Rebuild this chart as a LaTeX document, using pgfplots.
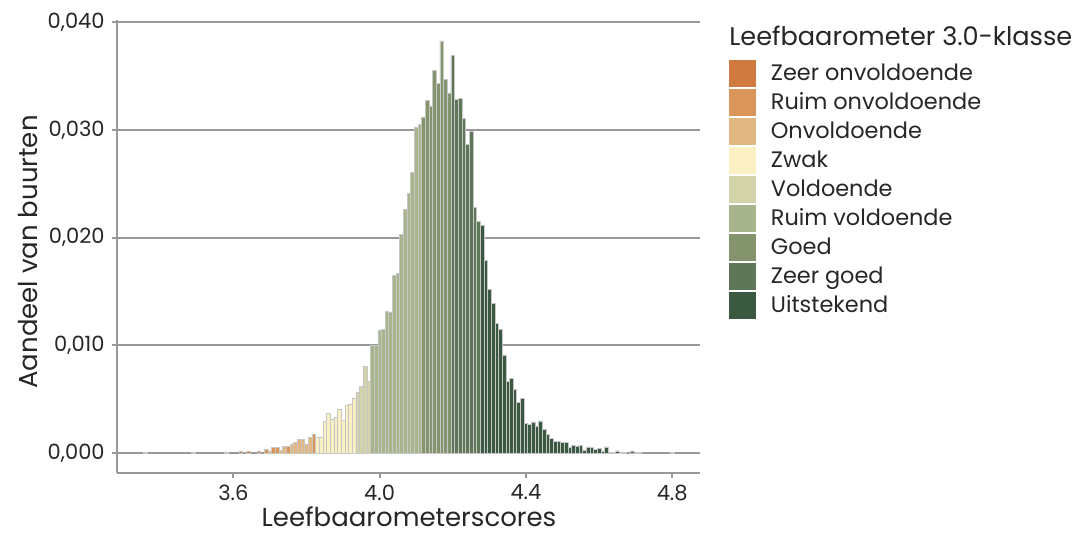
\documentclass[border=0pt]{standalone}
\usepackage{fontspec}
\setmainfont{Poppins}
\usepackage{pgfplots}
\pgfplotsset{compat=1.18}

\definecolor{zeeronv}{HTML}{D07A40}
\definecolor{ruimonv}{HTML}{D9955A}
\definecolor{onv}{HTML}{E1B882}
\definecolor{zwak}{HTML}{FAF0C3}
\definecolor{vold}{HTML}{D2D3A8}
\definecolor{ruimvold}{HTML}{A8B48C}
\definecolor{goed}{HTML}{84946C}
\definecolor{zeergoed}{HTML}{5E7758}
\definecolor{uitst}{HTML}{3B5941}
\definecolor{axgray}{HTML}{999999}

\pgfplotsset{
  hbar/.style={ybar, bar width=0.01, bar shift=0pt, fill=#1, draw=black!22, line width=0.3pt,
    legend image code/.code={\fill[#1] (0pt,-6.5pt) rectangle (13pt,6.5pt); \path (20.5pt,0pt);}},
}

\begin{document}
\begin{tikzpicture}
\path[use as bounding box] (-58.35pt,-31.65pt) rectangle (480.65pt,236.35pt);
\begin{axis}[
  scale only axis, width=291.65pt, height=226.35pt,
  at={(0pt,0pt)}, anchor=south west,
  clip mode=individual,
  xmin=3.281, xmax=4.876, ymin=-0.00183, ymax=0.0402,
  axis lines=left,
  axis line style={draw=axgray, line width=1pt, -},
  xtick={3.6,4.0,4.4,4.8},
  ytick={0,0.01,0.02,0.03,0.04},
  scaled y ticks=false,
  tick align=outside, major tick length=2.5pt,
  tick style={draw=axgray, line width=1pt},
  ymajorgrids, grid style={draw=axgray, line width=1pt},
  /pgf/number format/assume math mode=true,
  xticklabel style={/pgf/number format/.cd, fixed, fixed zerofill, precision=1},
  yticklabel style={/pgf/number format/.cd, fixed, fixed zerofill, precision=3, use comma},
  ticklabel style={font=\fontsize{10.5}{12}\selectfont, text=black!85},
  legend style={at={(axis description cs:1.0502,0.9116)}, anchor=north west,
    draw=none, fill=none, inner sep=0pt, outer sep=0pt, row sep=1.2pt,
    font=\fontsize{11.2}{13}\selectfont, nodes={inner sep=0pt, text=black!85}},
  legend cell align=left,
]

% Zeer onvoldoende
\addplot[hbar=zeeronv] coordinates {(3.36,0.0001) (3.49,0.0001) (3.58,0.0001) (3.62,0.00015) (3.64,0.00015) (3.67,0.00015)};
\addlegendentry{Zeer onvoldoende}

% Ruim onvoldoende
\addplot[hbar=ruimonv] coordinates {(3.69,0.00035) (3.71,0.0005) (3.72,0.0005) (3.75,0.00062) (3.82,0.00175)};
\addlegendentry{Ruim onvoldoende}

% Onvoldoende
\addplot[hbar=onv] coordinates {(3.70,0.0002) (3.73,0.00024) (3.74,0.00062) (3.76,0.00081) (3.77,0.00099)
  (3.78,0.00124) (3.79,0.00127) (3.80,0.00084) (3.81,0.00142)};
\addlegendentry{Onvoldoende}

% Zwak
\addplot[hbar=zwak] coordinates {(3.83,0.00145) (3.84,0.00145) (3.85,0.0029) (3.86,0.00368) (3.87,0.00313)
  (3.88,0.00334) (3.89,0.00406) (3.90,0.00303) (3.91,0.00443) (3.92,0.00455) (3.93,0.00505)};
\addlegendentry{Zwak}

% Voldoende
\addplot[hbar=vold] coordinates {(3.94,0.00563) (3.95,0.00615) (3.96,0.00807) (3.97,0.00668)};
\addlegendentry{Voldoende}

% Ruim voldoende
\addplot[hbar=ruimvold] coordinates {(3.98,0.01002) (3.99,0.01002) (4.00,0.01142) (4.01,0.01151) (4.02,0.01318)
  (4.03,0.01309) (4.04,0.01652) (4.05,0.01671) (4.06,0.02032) (4.07,0.02265) (4.08,0.0241)
  (4.09,0.02608) (4.10,0.03028) (4.11,0.03053)};
\addlegendentry{Ruim voldoende}

% Goed
\addplot[hbar=goed] coordinates {(4.12,0.03121) (4.13,0.03276) (4.14,0.03223) (4.15,0.03555) (4.16,0.03431)
  (4.17,0.03826) (4.18,0.03471) (4.19,0.03344)};
\addlegendentry{Goed}

% Zeer goed
\addplot[hbar=zeergoed] coordinates {(4.20,0.03694) (4.21,0.03283) (4.22,0.03292) (4.23,0.03106) (4.24,0.02868)
  (4.25,0.02991) (4.26,0.0228) (4.27,0.02147)};
\addlegendentry{Zeer goed}

% Uitstekend
\addplot[hbar=uitst] coordinates {(4.28,0.02116) (4.29,0.01791) (4.30,0.01522) (4.31,0.01389) (4.32,0.01204)
  (4.33,0.01151) (4.34,0.0091) (4.35,0.00668) (4.36,0.00693) (4.37,0.00591) (4.38,0.00471)
  (4.39,0.00508) (4.40,0.00272) (4.41,0.00262) (4.42,0.00289) (4.43,0.00251) (4.44,0.00297)
  (4.45,0.0022) (4.46,0.00174) (4.47,0.00136) (4.48,0.00111) (4.49,0.00111) (4.50,0.00102)
  (4.51,0.00102) (4.52,0.00053) (4.53,0.00074) (4.54,0.00065) (4.55,0.00071) (4.56,0.00028)
  (4.57,0.00056) (4.58,0.00053) (4.59,0.00037) (4.60,0.00046) (4.61,0.00019) (4.62,0.00056)
  (4.63,0.00009) (4.64,0.00009) (4.65,0.00019) (4.66,0.00009) (4.67,0.00007) (4.69,0.00019)
  (4.70,0.00007) (4.71,0.00009) (4.80,0.00009)};
\addlegendentry{Uitstekend}

\node[anchor=base west, inner sep=0pt, font=\fontsize{12.8}{15}\selectfont, text=black!85]
  at (axis description cs:1.0497,0.9447) {Leefbaarometer 3.0-klasse};
\node[rotate=90, anchor=center, inner sep=0pt, font=\fontsize{13}{15}\selectfont, text=black!85]
  at (axis description cs:-0.1520,0.4875) {Aandeel van buurten};
\node[anchor=base, inner sep=0pt, font=\fontsize{13}{15}\selectfont, text=black!85]
  at (axis description cs:0.5011,-0.1185) {Leefbaarometerscores};
\end{axis}
\end{tikzpicture}
\end{document}
